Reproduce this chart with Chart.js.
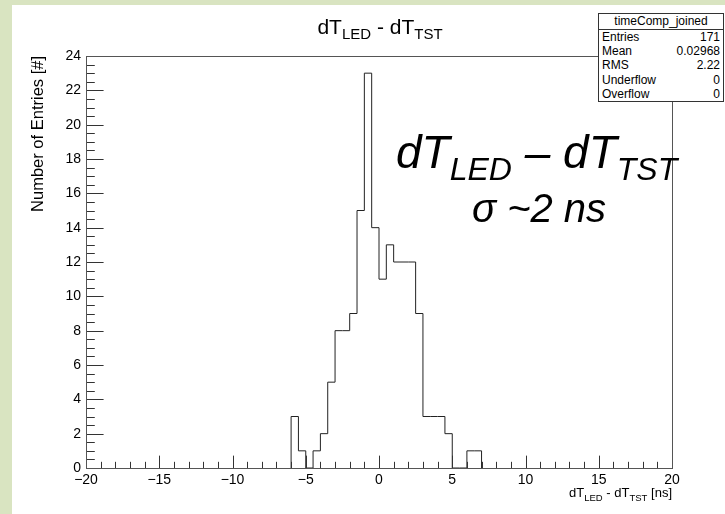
<!DOCTYPE html>
<html>
<head>
<meta charset="utf-8">
<script src="https://cdn.jsdelivr.net/npm/chart.js@4.4.0/dist/chart.umd.min.js"></script>
<style>
  html, body { margin: 0; padding: 0; background: #fff; }
  body { width: 725px; height: 514px; position: relative; overflow: hidden; font-family: "Liberation Sans", Arial, sans-serif; }
  .green { position: absolute; background: #d9e4c1; }
  #wrap { position: absolute; left: 0; top: 0; width: 725px; height: 514px; }
  .txt { position: absolute; white-space: nowrap; line-height: 1; color: #000; }
  .sub { position: relative; }
  #stats { position: absolute; left: 598px; top: 13px; width: 124px; border: 1px solid #333; background: #fff;
           font-family: "Liberation Sans Narrow", "Liberation Sans", sans-serif; font-size: 12px; color: #000; }
  #stats .hd { text-align: center; height: 15px; line-height: 15px; border-bottom: 1px solid #333; }
  #stats .row { display: flex; justify-content: space-between; height: 14.2px; line-height: 14.2px; padding: 0 3px; }
</style>
</head>
<body>
<div class="green" style="left:0;top:0;width:12px;height:514px"></div>
<div class="green" style="left:0;top:0;width:725px;height:5px"></div>
<div id="wrap"><canvas id="hist" width="725" height="514"></canvas></div>

<div class="txt" style="left:380px;top:16px;font-size:21px;transform:translateX(-50%)">dT<span class="sub" style="font-size:15px;top:5px">LED</span> - dT<span class="sub" style="font-size:15px;top:5px">TST</span></div>

<div id="stats">
  <div class="hd">timeComp_joined</div>
  <div class="row"><span>Entries</span><span>171</span></div>
  <div class="row"><span>Mean</span><span>0.02968</span></div>
  <div class="row"><span>RMS</span><span>2.22</span></div>
  <div class="row"><span>Underflow</span><span>0</span></div>
  <div class="row"><span>Overflow</span><span>0</span></div>
</div>

<div class="txt" style="left:396px;top:129px;font-size:46px;font-style:italic">dT<span class="sub" style="font-size:32px;top:12px">LED</span>&nbsp;– dT<span class="sub" style="font-size:32px;top:12px">TST</span></div>
<div class="txt" style="left:539px;top:188px;font-size:40px;font-style:italic;transform:translateX(-50%)">σ ~2 ns</div>

<div class="txt" style="right:53px;top:486px;font-size:13px">dT<span class="sub" style="font-size:9.5px;top:4px">LED</span> - dT<span class="sub" style="font-size:9.5px;top:4px">TST</span> [ns]</div>

<script>
// bin lower edges (ns) and entries per bin, bin width 0.5 ns
const binLow = [-6.0, -5.5, -5.0, -4.5, -4.0, -3.5, -3.0, -2.5, -2.0, -1.5, -1.0, -0.5,
                0.0, 0.5, 1.0, 1.5, 2.0, 2.5, 3.0, 3.5, 4.0, 4.5, 5.0, 5.5, 6.0, 6.5];
const counts = [3, 1, 0, 1, 2, 5, 8, 8, 9, 15, 23, 14,
                11, 13, 12, 12, 12, 9, 3, 3, 3, 2, 0, 0, 1, 1];
const binWidth = 0.5;

const xRange = [-20, 20];
const yRange = [0, 24];
const xLabelStep = 5;
const yLabelStep = 2;

// stepped points: rise at first edge, one point per bin, drop at last edge
const points = [{x: binLow[0], y: 0}];
for (let i = 0; i < binLow.length; i++) {
    points.push({x: binLow[i], y: counts[i]});
}
points.push({x: binLow[binLow.length - 1] + binWidth, y: 0});

// ROOT style frame with ticks drawn inward
const rootFrame = {
    id: 'rootFrame',
    afterDatasetsDraw(chart) {
        const {ctx, chartArea: a, scales: {x, y}} = chart;
        ctx.save();
        ctx.strokeStyle = '#333';
        ctx.lineWidth = 1;
        const h = a.bottom - a.top, w = a.right - a.left;
        ctx.beginPath();
        for (let v = xRange[0]; v <= xRange[1]; v += 1) {
            const px = Math.round(x.getPixelForValue(v)) + 0.5;
            const len = (v % 5 === 0) ? 0.03 * h : 0.015 * h;
            ctx.moveTo(px, a.bottom);
            ctx.lineTo(px, a.bottom - len);
        }
        for (let v = yRange[0]; v <= yRange[1]; v += 0.5) {
            const py = Math.round(y.getPixelForValue(v)) + 0.5;
            const len = (v % 2 === 0) ? 0.03 * w : 0.015 * w;
            ctx.moveTo(a.left, py);
            ctx.lineTo(a.left + len, py);
        }
        ctx.stroke();
        ctx.strokeStyle = '#555';
        ctx.strokeRect(Math.round(a.left) + 0.5, Math.round(a.top) + 0.5,
                       Math.round(w), Math.round(h));
        ctx.restore();
    }
};

Chart.defaults.font.family = '"Liberation Sans", Arial, sans-serif';
Chart.defaults.color = '#000';

new Chart(document.getElementById('hist').getContext('2d'), {
    type: 'line',
    data: {
        datasets: [{
            data: points,
            stepped: true,
            borderColor: '#222',
            borderWidth: 1,
            pointRadius: 0,
            fill: false
        }]
    },
    options: {
        responsive: false,
        animation: false,
        layout: { padding: { top: 56, right: 53, left: 0, bottom: 0 } },
        plugins: { legend: { display: false }, tooltip: { enabled: false } },
        scales: {
            x: {
                type: 'linear',
                min: xRange[0],
                max: xRange[1],
                grid: { display: false, drawTicks: false },
                border: { display: false },
                ticks: {
                    stepSize: xLabelStep,
                    padding: 4,
                    maxRotation: 0,
                    font: { size: 14 },
                    callback: v => String(v).replace('-', '\u2212')
                },
                afterFit: s => { s.height = 46; }
            },
            y: {
                min: yRange[0],
                max: yRange[1],
                grid: { display: false, drawTicks: false },
                border: { display: false },
                ticks: { stepSize: yLabelStep, padding: 5, font: { size: 14 } },
                title: {
                    display: true,
                    text: 'Number of Entries [#]',
                    align: 'end',
                    font: { size: 16.5 },
                    padding: { top: 29, bottom: 0 }
                },
                afterFit: s => { s.width = 86; }
            }
        }
    },
    plugins: [rootFrame]
});
</script>
</body>
</html>
